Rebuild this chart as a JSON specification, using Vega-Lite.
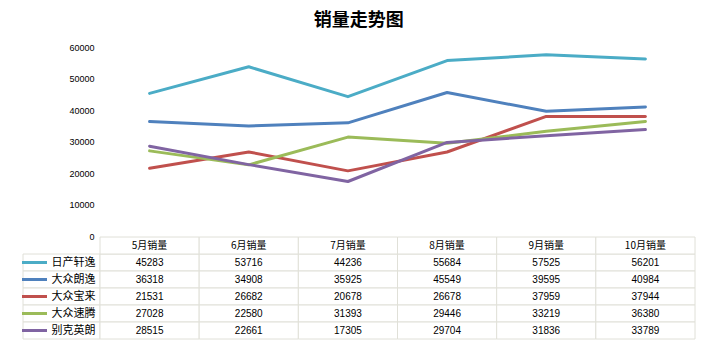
{
  "$schema": "https://vega.github.io/schema/vega-lite/v6.json",
  "background": "white",
  "padding": {"left": 22, "top": 12, "right": 5, "bottom": 5},
  "title": {"text": "销量走势图", "fontSize": 18, "fontWeight": "bold", "font": "Noto Sans CJK SC", "color": "#000000", "anchor": "middle", "offset": 13},
  "config": {"view": {"stroke": null}, "font": "Liberation Sans, Noto Sans CJK SC"},
  "datasets": {
    "sales": [
      {"series": "日产轩逸", "month": "5月销量", "value": 45283},
      {"series": "日产轩逸", "month": "6月销量", "value": 53716},
      {"series": "日产轩逸", "month": "7月销量", "value": 44236},
      {"series": "日产轩逸", "month": "8月销量", "value": 55684},
      {"series": "日产轩逸", "month": "9月销量", "value": 57525},
      {"series": "日产轩逸", "month": "10月销量", "value": 56201},
      {"series": "大众朗逸", "month": "5月销量", "value": 36318},
      {"series": "大众朗逸", "month": "6月销量", "value": 34908},
      {"series": "大众朗逸", "month": "7月销量", "value": 35925},
      {"series": "大众朗逸", "month": "8月销量", "value": 45549},
      {"series": "大众朗逸", "month": "9月销量", "value": 39595},
      {"series": "大众朗逸", "month": "10月销量", "value": 40984},
      {"series": "大众宝来", "month": "5月销量", "value": 21531},
      {"series": "大众宝来", "month": "6月销量", "value": 26682},
      {"series": "大众宝来", "month": "7月销量", "value": 20678},
      {"series": "大众宝来", "month": "8月销量", "value": 26678},
      {"series": "大众宝来", "month": "9月销量", "value": 37959},
      {"series": "大众宝来", "month": "10月销量", "value": 37944},
      {"series": "大众速腾", "month": "5月销量", "value": 27028},
      {"series": "大众速腾", "month": "6月销量", "value": 22580},
      {"series": "大众速腾", "month": "7月销量", "value": 31393},
      {"series": "大众速腾", "month": "8月销量", "value": 29446},
      {"series": "大众速腾", "month": "9月销量", "value": 33219},
      {"series": "大众速腾", "month": "10月销量", "value": 36380},
      {"series": "别克英朗", "month": "5月销量", "value": 28515},
      {"series": "别克英朗", "month": "6月销量", "value": 22661},
      {"series": "别克英朗", "month": "7月销量", "value": 17305},
      {"series": "别克英朗", "month": "8月销量", "value": 29704},
      {"series": "别克英朗", "month": "9月销量", "value": 31836},
      {"series": "别克英朗", "month": "10月销量", "value": 33789}
    ]
  },
  "spacing": 1,
  "bounds": "flush",
  "resolve": {"scale": {"x": "independent", "y": "independent"}},
  "vconcat": [
    {
      "width": 672,
      "height": 189,
      "data": {"name": "sales"},
      "mark": {"type": "line", "strokeWidth": 3, "strokeCap": "round", "strokeJoin": "round"},
      "encoding": {
        "x": {
          "field": "month", "type": "ordinal", "bandPosition": 0.5,
          "sort": ["5月销量", "6月销量", "7月销量", "8月销量", "9月销量", "10月销量"],
          "scale": {"type": "band", "range": [77, 672], "paddingInner": 0, "paddingOuter": 0},
          "axis": null
        },
        "y": {
          "field": "value", "type": "quantitative",
          "scale": {"domain": [0, 60000], "nice": false, "zero": true},
          "axis": {"title": null, "offset": -77, "domain": false, "ticks": false, "grid": false, "values": [0, 10000, 20000, 30000, 40000, 50000, 60000], "format": "d", "labelPadding": 6, "labelFontSize": 9, "labelColor": "#000000", "labelFont": "Liberation Sans"}
        },
        "color": {
          "field": "series", "type": "nominal",
          "scale": {"domain": ["日产轩逸", "大众朗逸", "大众宝来", "大众速腾", "别克英朗"], "range": ["#4BACC6", "#4F81BD", "#C0504D", "#9BBB59", "#8064A2"]},
          "legend": null
        }
      }
    },
    {
      "spacing": 0,
      "bounds": "flush",
      "resolve": {"scale": {"x": "independent", "y": "independent"}},
      "hconcat": [
        {
          "width": 77,
          "height": 102,
          "data": {"name": "sales"},
          "transform": [{"filter": "datum.month == '5月销量'"}],
          "encoding": {
            "y": {"field": "series", "type": "nominal", "scale": {"type": "band", "domain": ["hdr", "日产轩逸", "大众朗逸", "大众宝来", "大众速腾", "别克英朗"], "paddingInner": 0, "paddingOuter": 0}, "axis": null}
          },
          "layer": [
            {"mark": {"type": "rect", "fill": "white", "stroke": "#e0e0d8", "strokeWidth": 1}},
            {"mark": {"type": "tick", "orient": "horizontal", "size": 25, "thickness": 3, "xOffset": -27, "opacity": 1},
             "encoding": {"color": {"field": "series", "type": "nominal", "scale": {"domain": ["日产轩逸", "大众朗逸", "大众宝来", "大众速腾", "别克英朗"], "range": ["#4BACC6", "#4F81BD", "#C0504D", "#9BBB59", "#8064A2"]}, "legend": null}}},
            {"mark": {"type": "text", "align": "left", "dx": -10, "fontSize": 11, "font": "Noto Sans CJK SC", "color": "#000000"},
             "encoding": {"text": {"field": "series"}}}
          ]
        },
        {
          "width": 595,
          "height": 102,
          "data": {"name": "sales"},
          "encoding": {
            "x": {"field": "month", "type": "ordinal", "sort": ["5月销量", "6月销量", "7月销量", "8月销量", "9月销量", "10月销量"], "scale": {"type": "band", "paddingInner": 0, "paddingOuter": 0}, "axis": null}
          },
          "layer": [
            {"mark": {"type": "rect", "fill": "white", "stroke": "#e0e0d8", "strokeWidth": 1},
             "encoding": {"y": {"field": "series", "type": "nominal", "scale": {"type": "band", "domain": ["hdr", "日产轩逸", "大众朗逸", "大众宝来", "大众速腾", "别克英朗"], "paddingInner": 0, "paddingOuter": 0}, "axis": null}}},
            {"transform": [{"filter": "datum.series == '日产轩逸'"}],
             "mark": {"type": "rect", "fill": "white", "stroke": "#e0e0d8", "strokeWidth": 1},
             "encoding": {"y": {"datum": "hdr"}}},
            {"mark": {"type": "text", "fontSize": 10, "color": "#000000"},
             "encoding": {"y": {"field": "series", "type": "nominal"}, "text": {"field": "value", "type": "quantitative", "format": "d"}}},
            {"transform": [{"filter": "datum.series == '日产轩逸'"}],
             "mark": {"type": "text", "fontSize": 10, "font": "Noto Sans CJK SC", "color": "#000000"},
             "encoding": {"y": {"datum": "hdr"}, "text": {"field": "month"}}}
          ]
        }
      ]
    }
  ]
}
